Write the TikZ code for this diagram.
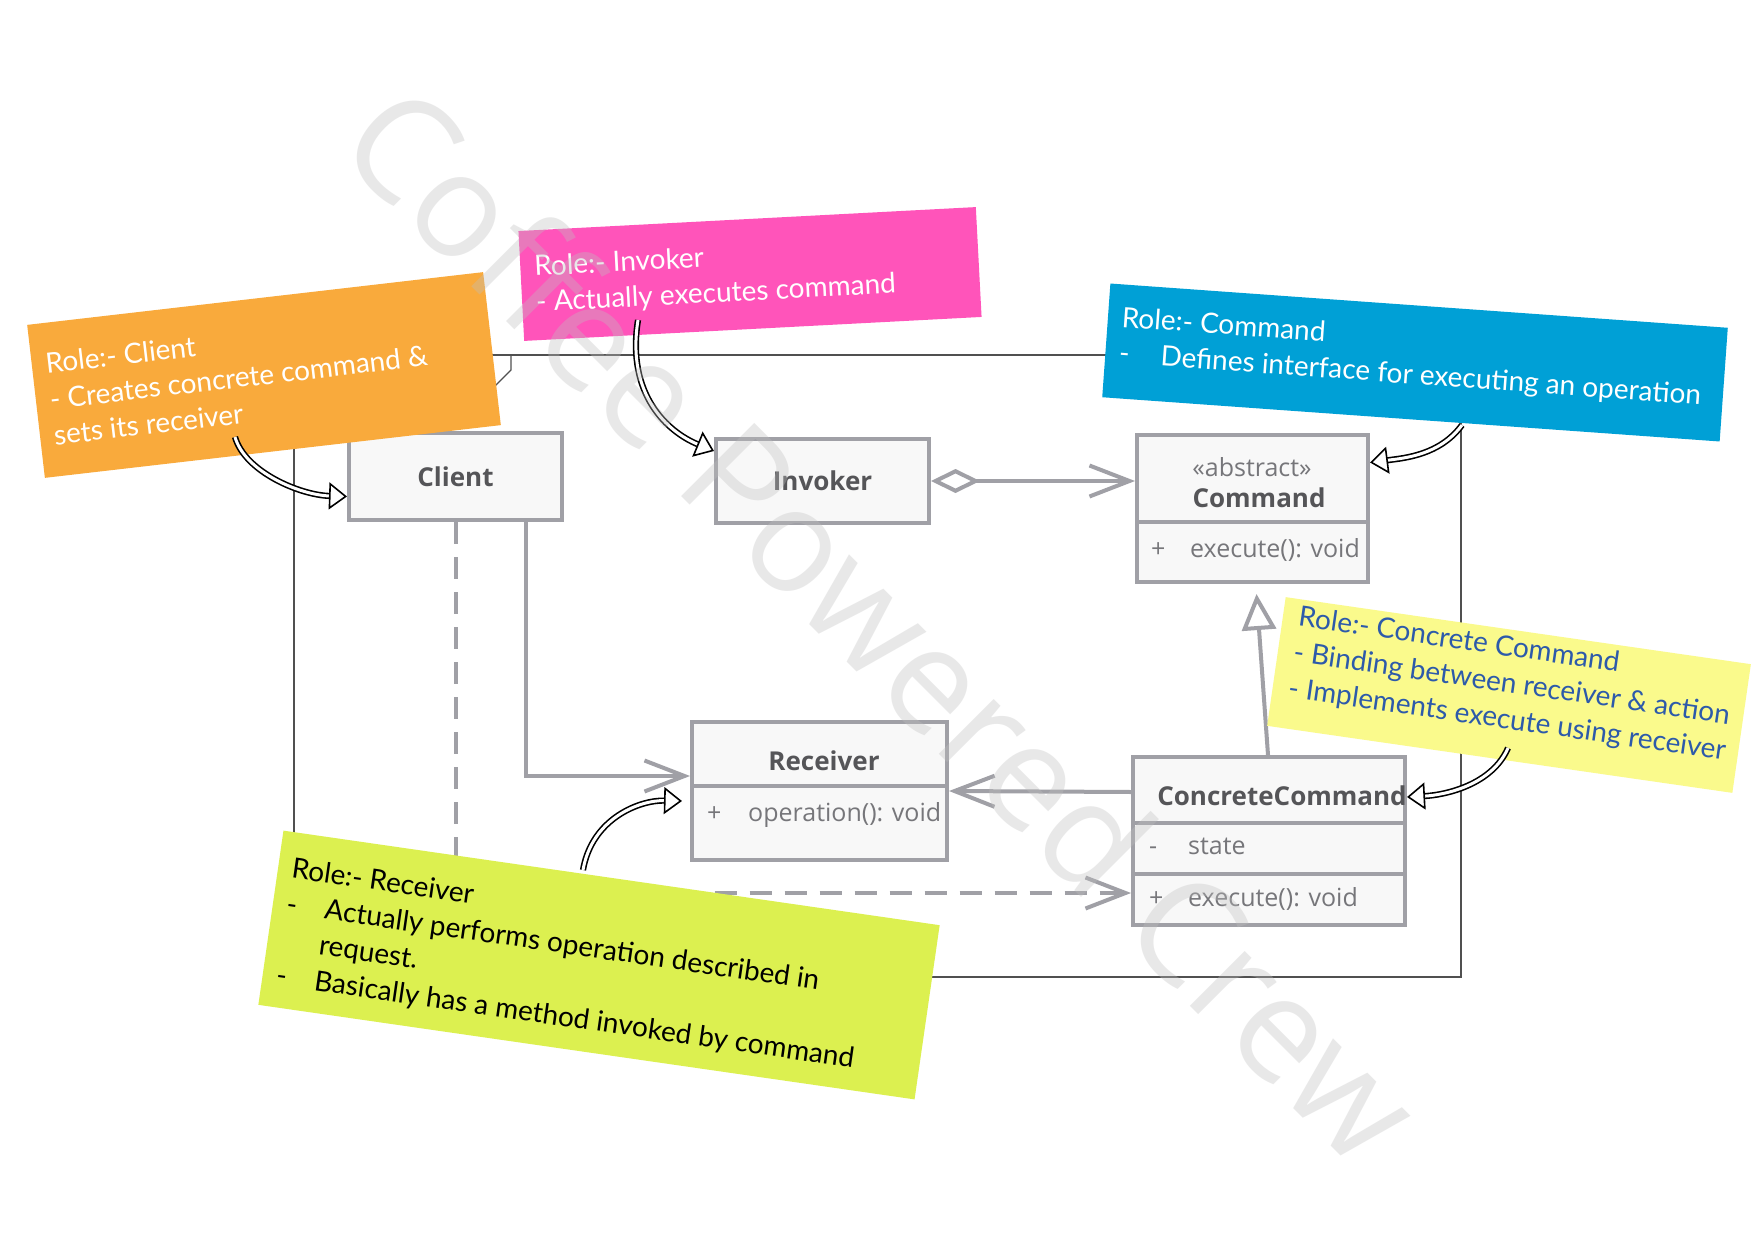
\documentclass[tikz,border=0pt]{standalone}
\usepackage{fontspec}
\setmainfont{Open Sans}
\newfontfamily\notefont{Lato}
\usetikzlibrary{arrows.meta}
\definecolor{boxgray}{RGB}{160,160,166}
\definecolor{boxfill}{RGB}{248,248,248}
\definecolor{namegray}{RGB}{85,85,88}
\definecolor{membergray}{RGB}{118,118,122}
\definecolor{framegray}{RGB}{80,80,80}
\definecolor{clientorange}{RGB}{249,170,60}
\definecolor{invokerpink}{RGB}{255,84,186}
\definecolor{commandblue}{RGB}{0,160,214}
\definecolor{concreteyellow}{RGB}{250,250,140}
\definecolor{receiverlime}{RGB}{220,240,80}
\definecolor{concretetext}{RGB}{45,90,170}

\begin{document}
\begin{tikzpicture}[
        x=1pt, y=-1pt,
        classbox/.style={rectangle, draw=boxgray, line width=4pt, fill=boxfill, inner sep=0pt, text=namegray, font=\bfseries\fontsize{26}{30}\selectfont},
        classname/.style={text=namegray, inner sep=0pt, font=\bfseries\fontsize{26}{30}\selectfont},
        stereo/.style={text=membergray, inner sep=0pt, font=\fontsize{25}{30}\selectfont},
        member/.style={anchor=west, text=membergray, inner sep=0pt, text height=18pt, text depth=6pt, font=\fontsize{25}{30}\selectfont},
        divider/.style={draw=boxgray, line width=4pt},
        assoc/.style={draw=boxgray, line width=4pt, -{Straight Barb[length=40pt, width=31pt]}},
        depend/.style={assoc, dash pattern=on 22pt off 13pt},
        aggr/.style={draw=boxgray, line width=4pt, {Diamond[length=49pt, width=24pt, fill=white]}-{Straight Barb[length=40pt, width=31pt]}},
        inherit/.style={draw=boxgray, line width=4pt, -{Triangle[length=36pt, width=34pt, fill=white]}},
        note/.style={rectangle, inner sep=0pt, draw=none},
        notetext/.style={anchor=north west, inner xsep=14pt, align=left, font=\notefont\fontsize{28}{36}\selectfont},
        pointer/.style={draw=black, line width=1.6pt, double=white, double distance=3pt, -{Triangle[length=18pt, width=27pt, fill=white, line width=1.6pt]}},
        watermark/.style={text=black!25, text opacity=0.35, font=\fontsize{145}{145}\selectfont}
    ]
    \useasboundingbox (0,0) rectangle (1755,1241);
    \fill[white] (0,0) rectangle (1755,1241);

    % Frame
    \draw[framegray, line width=1.3pt] (294,355) rectangle (1461,977);
    \draw[framegray, line width=1.3pt] (511,355) -- (511,370) -- (494,387);

    % Classes
    \node[classbox, minimum width=213pt, minimum height=87pt] (client) at (455.5,476.5) {Client};
    \node[classbox, minimum width=213pt, minimum height=84pt] (invoker) at (822.5,481) {Invoker};
    \node[classbox, minimum width=231pt, minimum height=147pt] (command) at (1252.5,508.5) {};
    \node[classbox, minimum width=255pt, minimum height=138pt] (receiver) at (819.5,791) {};
    \node[classbox, minimum width=272pt, minimum height=168pt] (concrete) at (1269,841) {};

    \node[stereo] (cmdstereo) at (1252,467) {«abstract»};
    \node[classname] (cmdname) at (1259,498) {Command};
    \node[member] (cmdexecvis) at (1151,551) {+};
    \node[member] (cmdexec) at (1190,551) {execute(): void};
    \draw[divider] (command.west |- 0,522) -- (command.east |- 0,522);

    \node[classname] (recname) at (824,761) {Receiver};
    \node[member] (recopvis) at (707,815) {+};
    \node[member] (recop) at (748,815) {operation(): void};
    \draw[divider] (receiver.west |- 0,786) -- (receiver.east |- 0,786);

    \node[classname] (ccname) at (1282,796) {ConcreteCommand};
    \node[member] (ccstatevis) at (1149,848) {-};
    \node[member] (ccstate) at (1188,848) {state};
    \node[member] (ccexecvis) at (1149,900) {+};
    \node[member] (ccexec) at (1188,900) {execute(): void};
    \draw[divider] (concrete.west |- 0,823) -- (concrete.east |- 0,823);
    \draw[divider] (concrete.west |- 0,874) -- (concrete.east |- 0,874);

    % Relations
    \draw[aggr] (invoker.east) -- (invoker.east -| command.west);
    \draw[assoc] ([xshift=70pt]client.south) |- ([yshift=15pt]receiver.west);
    \draw[depend] (client.south) |- ([yshift=-52pt]concrete.west);
    \draw[assoc] ([yshift=49pt]concrete.west) -- (receiver.east);
    \draw[inherit] ([xshift=-1pt]concrete.north) -- ([xshift=4pt, yshift=-10pt]command.south);

    % Notes
    \node[note, fill=clientorange, minimum width=459pt, minimum height=154pt, rotate=6.6] (clientnote) at (264,375) {};
    \node[notetext, text=white, rotate=6.6, inner ysep=30pt] (clienttxt) at (clientnote.north west) {Role:- Client\\- Creates concrete command \&\\sets its receiver};

    \node[note, fill=invokerpink, minimum width=458pt, minimum height=110pt, rotate=3] (invokernote) at (750,274) {};
    \node[notetext, text=white, rotate=3, inner ysep=25pt] (invokertxt) at (invokernote.north west) {Role:- Invoker\\- Actually executes command};

    \node[note, fill=commandblue, minimum width=619pt, minimum height=114pt, rotate=-4.1] (commandnote) at (1415,362.5) {};
    \node[notetext, text=white, rotate=-4.1, inner ysep=22pt] (commandtxt) at (commandnote.north west) {Role:- Command\\-\hspace{31pt}Defines interface for executing an operation};

    \node[note, fill=concreteyellow, minimum width=470pt, minimum height=130pt, rotate=-8.2] (concretenote) at (1509,695) {};
    \node[notetext, text=concretetext, rotate=-8.2, inner ysep=6pt, inner xsep=16pt] (concretetxt) at (concretenote.north west) {Role:- Concrete Command\\- Binding between receiver \& action\\- Implements execute using receiver};

    \node[note, fill=receiverlime, minimum width=663pt, minimum height=176pt, rotate=-8.2] (receivernote) at (599,965) {};
    \node[notetext, text=black, rotate=-8.2, inner ysep=25pt] (receivertxt) at (receivernote.north west) {Role:- Receiver\\-\hspace{28pt}Actually performs operation described in\\\hspace*{38pt}request.\\-\hspace{28pt}Basically has a method invoked by command};

    % Pointers
    \coordinate (clientptr) at (235,437);
    \coordinate (invokerptr) at (638,320);
    \coordinate (commandptr) at (1462,425);
    \coordinate (concreteptr) at (1508,748);
    \coordinate (receiverptr) at (583,870);
    \draw[pointer] (clientptr) .. controls (245,472) and (300,495) .. ([yshift=-20pt]client.west);
    \draw[pointer] (invokerptr) .. controls (626,395) and (668,432) .. ([yshift=-14pt]invoker.north west);
    \draw[pointer] (commandptr) .. controls (1440,455) and (1405,458) .. ([yshift=46pt]command.east);
    \draw[pointer] (concreteptr) .. controls (1492,785) and (1445,795) .. ([yshift=44pt]concrete.east);
    \draw[pointer] (receiverptr) .. controls (592,818) and (640,800) .. ([xshift=-8pt, yshift=-10pt]receiver.west);

    % Watermark
    \node[watermark, rotate=-45] (crewmark) at (884,622) {Coffee Powered Crew};
\end{tikzpicture}
\end{document}
